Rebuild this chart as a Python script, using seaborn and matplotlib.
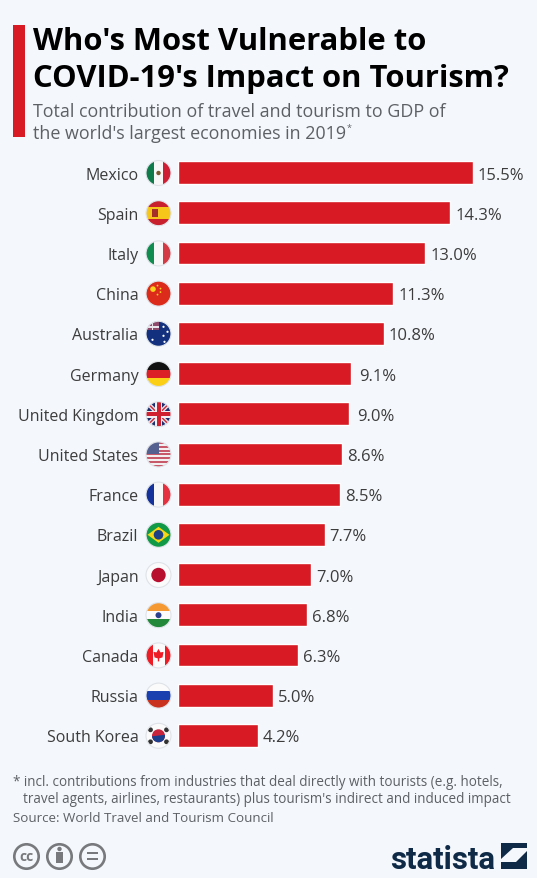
import numpy as np
import pandas as pd
import matplotlib
matplotlib.use('Agg')
import matplotlib.pyplot as plt
from matplotlib.patches import Circle, Rectangle, Polygon
import seaborn as sns

countries = ['Mexico', 'Spain', 'Italy', 'China', 'Australia', 'Germany', 'United Kingdom',
             'United States', 'France', 'Brazil', 'Japan', 'India', 'Canada', 'Russia', 'South Korea']
values = [15.5, 14.3, 13.0, 11.3, 10.8, 9.1, 9.0, 8.6, 8.5, 7.7, 7.0, 6.8, 6.3, 5.0, 4.2]

RED = '#d71a23'
BG = '#f4f7fb'
TXT = '#3c3c3c'
GREY = '#5d6166'
NAVY = '#0f2a47'

sns.set_theme(style='white')
plt.rcParams['font.family'] = ['Open Sans', 'DejaVu Sans']

df = pd.DataFrame({'country': countries, 'value': values})

fig = plt.figure(figsize=(5.37, 8.79), dpi=100, facecolor=BG)

# chart area, in pixels: x 178-473 is 0-15.5, rows start at y 153.9
ax = fig.add_axes([178 / 537, 1 - 756.5 / 879, 295 / 537, 603 / 879])
ax.patch.set_alpha(0)
sns.barplot(data=df, x='value', y='country', color=RED, saturation=1, width=0.57, ax=ax)
ax.set_xlim(0, 15.5)
ax.set_ylim(14.5, -0.5)
ax.set_xlabel('')
ax.set_ylabel('')
ax.set_xticks([])
ax.set_yticks(range(len(countries)))
ax.set_yticklabels(countries, fontsize=11.5, color=TXT)
ax.tick_params(axis='y', length=0, pad=28.5)
sns.despine(ax=ax, left=True, bottom=True)
for i, v in enumerate(values):
    # the 9.1 and 9.0 labels sit a little further out in the original
    off = 5.6 if v in (9.1, 9.0) else 3.6
    ax.annotate(f'{v:.1f}%', (v, i), xytext=(off, 0), textcoords='offset points',
                va='center_baseline', ha='left', fontsize=12, color=TXT, annotation_clip=False)

# overlay in pixel coordinates for header, flags and footer
ov = fig.add_axes([0, 0, 1, 1], zorder=5)
ov.set_xlim(0, 537)
ov.set_ylim(879, 0)
ov.axis('off')

ov.add_patch(Rectangle((13, 26), 12, 112, color=RED, lw=0))
ov.text(33, 38, "Who's Most Vulnerable to", fontsize=22.3, fontweight='bold', color='black', va='center_baseline')
ov.text(33, 75, "COVID-19's Impact on Tourism?", fontsize=22.3, fontweight='bold', color='black', va='center_baseline')
ov.text(33, 110, 'Total contribution of travel and tourism to GDP of', fontsize=12.85, color=GREY, va='center_baseline')
ov.text(33, 132, "the world's largest economies in 2019", fontsize=12.85, color=GREY, va='center_baseline')
ov.text(346.5, 127, '*', fontsize=6.5, color=GREY, va='center_baseline')

ov.text(13, 781, '* incl. contributions from industries that deal directly with tourists (e.g. hotels,',
        fontsize=9.75, color=GREY, va='center_baseline')
ov.text(23, 798, "travel agents, airlines, restaurants) plus tourism's indirect and induced impact",
        fontsize=9.75, color=GREY, va='center_baseline')
ov.text(13, 817, 'Source: World Travel and Tourism Council', fontsize=9.6, color=GREY, va='center_baseline')

FX, R = 158.5, 12.5
row_y = [174 + 40.2 * i for i in range(len(countries))]


def hstripes(y, cols, fracs=None):
    fracs = fracs or [1 / len(cols)] * len(cols)
    out, top = [], y - R
    for c, f in zip(cols, fracs):
        out.append(Rectangle((FX - R, top), 2 * R, 2 * R * f, color=c, lw=0))
        top += 2 * R * f
    return out


def vstripes(y, cols):
    return [Rectangle((FX - R + 2 * R * i / len(cols), y - R), 2 * R / len(cols), 2 * R, color=c, lw=0)
            for i, c in enumerate(cols)]


def dot(x, y, r, c):
    return Circle((FX + x, y), r, color=c, lw=0)


def flag(i, y):
    name = countries[i]
    if name == 'Mexico':
        p = vstripes(y, ['#0f7a4a', '#f7f7f7', '#ce1f35']) + [dot(0, y, 2.2, '#7a5a30')]
    elif name == 'Spain':
        p = hstripes(y, ['#c8202c', '#f7c61a', '#c8202c'], [.25, .5, .25]) + \
            [Rectangle((FX - 7, y - 4), 6, 8, color='#a5302a', lw=0)]
    elif name == 'Italy':
        p = vstripes(y, ['#0f8c4e', '#f7f7f7', '#d33a44'])
    elif name == 'China':
        p = [Rectangle((FX - R, y - R), 2 * R, 2 * R, color='#dc2a1b', lw=0), dot(-5.5, y - 4.5, 2.8, '#f8d21c')]
        for dx, dy in [(-1, -8), (2, -5), (2, -1.5), (-1, 1)]:
            p.append(dot(dx, y + dy, 0.9, '#f8d21c'))
    elif name == 'Australia':
        p = [Rectangle((FX - R, y - R), 2 * R, 2 * R, color='#12307e', lw=0),
             Rectangle((FX - R, y - R), 12.5, 9, color='#8d4a6a', lw=0),
             Rectangle((FX - R, y - 7.5), 12.5, 1.8, color='#e8e4ea', lw=0),
             Rectangle((FX - 7, y - R), 1.8, 9, color='#e8e4ea', lw=0)]
        for dx, dy in [(-6, 6), (5, -7), (9, -2), (5, 2), (6, 8)]:
            p.append(dot(dx, y + dy, 1.1, 'white'))
    elif name == 'Germany':
        p = hstripes(y, ['#111111', '#dc1f26', '#fbcf16'])
    elif name == 'United Kingdom':
        p = [Rectangle((FX - R, y - R), 2 * R, 2 * R, color='#1d2f6f', lw=0)]
        for s in (1, -1):
            p.append(Polygon([(FX - R, y - s * (R - 3)), (FX - R, y - s * (R + 3)),
                              (FX + R, y + s * (R - 3)), (FX + R, y + s * (R + 3))], color='#e8e4ea', lw=0))
            p.append(Polygon([(FX - R, y - s * (R - 1)), (FX - R, y - s * (R + 1)),
                              (FX + R, y + s * (R - 1)), (FX + R, y + s * (R + 1))], color='#cc2a3a', lw=0))
        p += [Rectangle((FX - R, y - 3.5), 2 * R, 7, color='#f2eef2', lw=0),
              Rectangle((FX - 3.5, y - R), 7, 2 * R, color='#f2eef2', lw=0),
              Rectangle((FX - R, y - 2), 2 * R, 4, color='#d1202f', lw=0),
              Rectangle((FX - 2, y - R), 4, 2 * R, color='#d1202f', lw=0)]
    elif name == 'United States':
        p = hstripes(y, ['#c8596a', '#f3eef0'] * 6 + ['#c8596a'])
        p.append(Rectangle((FX - R, y - R), 13, 12, color='#54608f', lw=0))
    elif name == 'France':
        p = vstripes(y, ['#14329a', '#f7f7f7', '#e5303f'])
    elif name == 'Brazil':
        p = [Rectangle((FX - R, y - R), 2 * R, 2 * R, color='#109a47', lw=0),
             Polygon([(FX - 11, y), (FX, y - 8), (FX + 11, y), (FX, y + 8)], color='#f5d718', lw=0),
             dot(0, y, 4.8, '#1d3f86')]
    elif name == 'Japan':
        p = [Rectangle((FX - R, y - R), 2 * R, 2 * R, color='#fbfbfb', lw=0), dot(0, y, 7.2, '#b80f2e')]
    elif name == 'India':
        p = hstripes(y, ['#f59a33', '#fbfbfb', '#23883a']) + [dot(0, y, 3, '#2c3f8c')]
    elif name == 'Canada':
        p = [Rectangle((FX - R, y - R), 2 * R, 2 * R, color='#fbfbfb', lw=0),
             Rectangle((FX - R, y - R), 6.5, 2 * R, color='#ee1c25', lw=0),
             Rectangle((FX + 6, y - R), 6.5, 2 * R, color='#ee1c25', lw=0),
             Polygon([(FX, y - 6.5), (FX + 2, y - 3), (FX + 5, y - 3.5), (FX + 4, y + 2), (FX + .7, y + 3),
                      (FX + .7, y + 6), (FX - .7, y + 6), (FX - .7, y + 3), (FX - 4, y + 2), (FX - 5, y - 3.5),
                      (FX - 2, y - 3)], color='#ee1c25', lw=0)]
    elif name == 'Russia':
        p = hstripes(y, ['#fbfbfb', '#1a3fae', '#c8321f'])
    else:
        p = [Rectangle((FX - R, y - R), 2 * R, 2 * R, color='#fbfbfb', lw=0),
             dot(0, y, 6.5, '#c8243c'),
             Polygon([(FX - 6.5, y + 0.5), (FX + 6.5, y - 1), (FX + 6.5, y + 7), (FX - 6.5, y + 7)], color='#1a3f8c', lw=0)]
        for dx, dy in [(-8, -6), (8, -6), (-8, 6), (8, 6)]:
            p.append(dot(dx, y + dy, 2.4, '#333333'))
    for patch in p:
        ov.add_patch(patch)
        patch.set_clip_path(Circle((FX, y), R, transform=ov.transData))
    # keep the taeguk round
    if name == 'South Korea':
        p[2].set_clip_path(Circle((FX, y), 6.5, transform=ov.transData))
    ov.add_patch(Circle((FX, y), R, fill=False, ec='#dfe3e8', lw=0.8))


for i, y in enumerate(row_y):
    flag(i, y)

# licence icons
ICON = '#77797c'
for cx in [26.5, 59.5, 92.5]:
    ov.add_patch(Circle((cx, 857.5), 12.2, fc='none', ec=ICON, lw=1.9))
ov.text(26.5, 857, 'cc', fontsize=10, fontweight='bold', color=ICON, ha='center', va='center')
ov.add_patch(Circle((59.5, 850), 2.2, color=ICON, lw=0))
ov.add_patch(Rectangle((56, 853.5), 7, 11, color=ICON, lw=0))
ov.add_patch(Rectangle((87, 853), 11, 2.3, color=ICON, lw=0))
ov.add_patch(Rectangle((87, 859), 11, 2.3, color=ICON, lw=0))

# logo
ov.text(390, 869, 'statista', fontsize=22.5, fontweight='bold', color=NAVY, va='baseline',
        family=['Roboto', 'DejaVu Sans'])
ov.add_patch(Rectangle((501, 844), 26, 26, color=NAVY, lw=0))
ov.add_patch(Polygon([(501, 860), (513, 849), (527, 849), (527, 852), (516, 863), (501, 863)], color=BG, lw=0))

fig.savefig('out.png', dpi=100, facecolor=BG)
